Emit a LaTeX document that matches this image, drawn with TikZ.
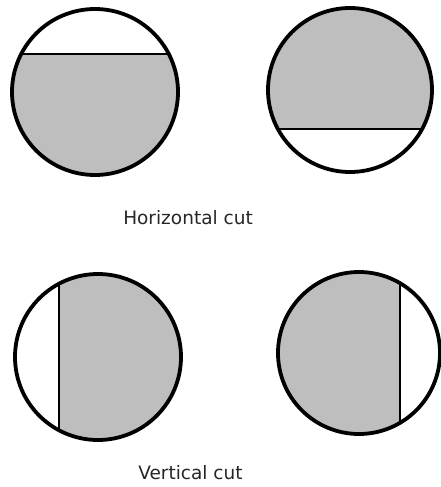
\documentclass[tikz,border=0pt]{standalone}
\usepackage{fontspec}
\setmainfont{DejaVu Sans}
\definecolor{segfill}{RGB}{190,190,190}
\begin{document}
\begin{tikzpicture}[x=1pt,y=-1pt,
  rim/.style={draw=black,line width=3.8pt},
  chord/.style={draw=black,line width=1.6pt},
  caption/.style={font=\fontsize{18.5}{22}\selectfont,text=black!85,inner sep=0pt}]
\useasboundingbox (0,0) rectangle (440,487);
% top-left
\begin{scope}
  \clip (95,92) circle (84);
  \fill[segfill] (0,54) rectangle (200,200);
  \draw[chord] (0,54) -- (200,54);
\end{scope}
\draw[rim] (95,92) circle (83);
% top-right
\begin{scope}
  \clip (350,90) circle (83);
  \fill[segfill] (250,0) rectangle (440,129);
  \draw[chord] (250,129) -- (440,129);
\end{scope}
\draw[rim] (350,90) circle (82);
% bottom-left
\begin{scope}
  \clip (98,357) circle (84);
  \fill[segfill] (59,260) rectangle (200,460);
  \draw[chord] (59,260) -- (59,460);
\end{scope}
\draw[rim] (98,357) circle (83);
% bottom-right
\begin{scope}
  \clip (359,353) circle (82);
  \fill[segfill] (270,260) rectangle (400,460);
  \draw[chord] (400,260) -- (400,460);
\end{scope}
\draw[rim] (359,353) circle (81);
\node[caption] (h) at (188,218) {Horizontal cut};
\node[caption] (v) at (190.5,473) {Vertical cut};
\end{tikzpicture}
\end{document}
